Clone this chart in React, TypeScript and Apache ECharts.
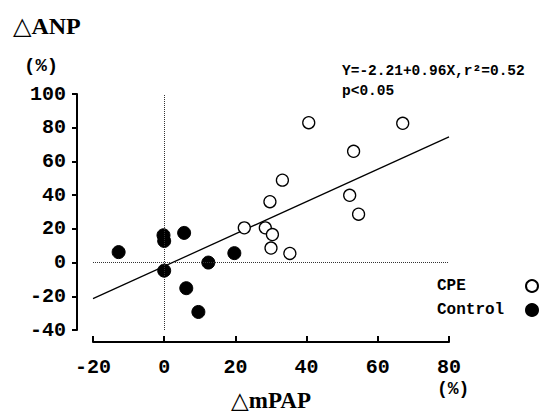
import React, { useEffect, useRef } from "react";
import * as echarts from "echarts";

const cpeX = [22.5, 28.4, 29.7, 30.4, 30.0, 35.3, 33.2, 40.6, 52.1, 53.2, 54.6, 67.0];
const cpeY = [20.6, 20.6, 36.1, 16.6, 8.6, 5.4, 48.9, 83.0, 39.9, 66.0, 28.7, 82.6];
const controlX = [-12.8, -0.2, 0.0, 5.6, 0.0, 12.4, 6.2, 9.6, 19.7];
const controlY = [6.2, 16.2, 12.8, 17.6, -4.8, 0.0, -15.2, -29.3, 5.6];
const regIntercept = -2.21;
const regSlope = 0.96;
const xRange = [-20, 80];
const yRange = [-40, 100];
const tickStep = 20;

const MONO = "'Liberation Mono', 'DejaVu Sans Mono', monospace";
const SERIF = "'Liberation Serif', 'DejaVu Serif', serif";

export default function App() {
  const ref = useRef<HTMLDivElement>(null);
  useEffect(() => {
    if (!ref.current) return;
    const chart = echarts.init(ref.current, null, { renderer: "svg" });
    const cpe = cpeX.map((x, i) => [x, cpeY[i]]);
    const ctrl = controlX.map((x, i) => [x, controlY[i]]);
    const reg = xRange.map((x) => [x, regIntercept + regSlope * x]);
    chart.setOption({
      animation: false,
      backgroundColor: "#fff",
      title: {
        text: "△ANP",
        left: 8,
        top: 9,
        textStyle: { fontFamily: SERIF, fontWeight: "bold", fontSize: 24, color: "#000" },
      },
      grid: { left: 93, right: 95, top: 94, bottom: 82, outerBoundsMode: "none", containLabel: false },
      xAxis: {
        type: "value",
        min: xRange[0],
        max: xRange[1],
        interval: tickStep,
        offset: 12,
        name: "△mPAP",
        nameLocation: "middle",
        nameGap: 47,
        nameTextStyle: { fontFamily: SERIF, fontWeight: "bold", fontSize: 23, color: "#000" },
        splitLine: { show: false },
        axisLine: { onZero: false, lineStyle: { color: "#000", width: 2 } },
        axisTick: { inside: true, length: 6, lineStyle: { color: "#000", width: 2 } },
        axisLabel: { margin: 15, fontFamily: MONO, fontWeight: "bold", fontSize: 20, color: "#000" },
      },
      yAxis: {
        type: "value",
        min: yRange[0],
        max: yRange[1],
        interval: tickStep,
        offset: 16,
        splitLine: { show: false },
        axisLine: { show: true, onZero: false, lineStyle: { color: "#000", width: 2 } },
        axisTick: { show: true, length: 5, lineStyle: { color: "#000", width: 2 } },
        axisLabel: { margin: 11, fontFamily: MONO, fontWeight: "bold", fontSize: 20, color: "#000" },
      },
      legend: {
        orient: "vertical",
        right: 5,
        top: 278,
        padding: 0,
        align: "right",
        itemWidth: 12,
        itemHeight: 12,
        itemGap: 8,
        data: ["CPE", "Control"],
        formatter: (name: string) => "{a|" + name + "}",
        textStyle: {
          fontFamily: MONO,
          fontWeight: "bold",
          fontSize: 16,
          color: "#000",
          rich: { a: { width: 84, align: "left", fontFamily: MONO, fontWeight: "bold", fontSize: 16, color: "#000" } },
        },
      },
      graphic: [
        {
          type: "text",
          left: 24,
          top: 56,
          style: { text: "(%)", fontFamily: MONO, fontWeight: "bold", fontSize: 19, fill: "#000" },
        },
        {
          type: "text",
          left: 437,
          top: 380,
          style: { text: "(%)", fontFamily: MONO, fontWeight: "bold", fontSize: 18, fill: "#000" },
        },
        {
          type: "text",
          left: 342,
          top: 63,
          style: { text: "Y=-2.21+0.96X,r²=0.52", fontFamily: MONO, fontWeight: "bold", fontSize: 14.5, fill: "#000" },
        },
        {
          type: "text",
          left: 342,
          top: 83,
          style: { text: "p<0.05", fontFamily: MONO, fontWeight: "bold", fontSize: 14.5, fill: "#000" },
        },
      ],
      series: [
        {
          name: "Regression",
          type: "line",
          data: reg,
          symbol: "none",
          silent: true,
          lineStyle: { color: "#000", width: 1.3 },
          markLine: {
            silent: true,
            symbol: "none",
            label: { show: false },
            lineStyle: { color: "#333", type: "dotted", width: 1 },
            data: [{ xAxis: 0 }, { yAxis: 0 }],
          },
          z: 1,
        },
        {
          name: "CPE",
          type: "scatter",
          data: cpe,
          symbol: "circle",
          symbolSize: 12,
          itemStyle: { color: "#fff", borderColor: "#000", borderWidth: 1.3, opacity: 1 },
          z: 3,
        },
        {
          name: "Control",
          type: "scatter",
          data: ctrl,
          symbol: "circle",
          symbolSize: 13,
          itemStyle: { color: "#000", borderColor: "#000", borderWidth: 1, opacity: 1 },
          z: 3,
        },
      ],
    });
    return () => chart.dispose();
  }, []);
  return <div ref={ref} style={{ position: "fixed", left: 0, top: 0, width: 544, height: 412 }} />;
}
